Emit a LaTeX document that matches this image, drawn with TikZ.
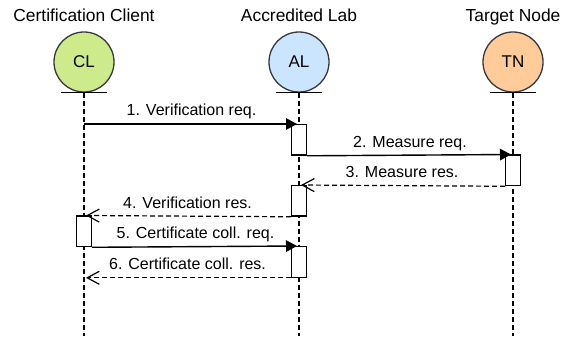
\documentclass[tikz,border=0pt]{standalone}
\usepackage{fontspec}
\setmainfont{Liberation Sans}
\usetikzlibrary{arrows.meta,positioning,shapes,calc}
\definecolor{clgreen}{HTML}{CDEB8B}
\definecolor{alblue}{HTML}{CCE5FF}
\definecolor{tnorange}{HTML}{FFCC99}
\definecolor{stroke}{HTML}{36393D}

\begin{document}
\begin{tikzpicture}[
  x=1pt, y=-1pt,
  actor/.style={circle, draw=stroke, line width=1.3pt, minimum size=60pt, inner sep=0pt, font=\fontsize{17}{20}\selectfont},
  title/.style={anchor=base, font=\fontsize{17.4}{20}\selectfont},
  life/.style={line width=1.3pt, dash pattern=on 5pt off 3pt},
  actbox/.style={rectangle, draw, fill=white, line width=1.3pt, minimum width=14.5pt, minimum height=30.5pt, inner sep=0pt, anchor=north},
  req/.style={line width=1.4pt, shorten >=2pt, -{Triangle[length=11pt,width=11.5pt]}},
  res/.style={line width=1.2pt, dash pattern=on 5pt off 3pt, shorten >=2pt, -{Straight Barb[length=12pt,width=13pt,line width=1.2pt]}},
  msglabel/.style={midway, anchor=base, yshift=8pt, font=\fontsize{16}{18}\selectfont}
]
\useasboundingbox (0,0) rectangle (565,339);

% participants
\node[actor, fill=clgreen] (CL) at (84,62) {CL};
\node[actor, fill=alblue] (AL) at (299,62) {AL};
\node[actor, fill=tnorange] (TN) at (513,62) {TN};

\node[title] (CLt) at (84,22) {Certification Client};
\node[title] (ALt) at (299,22) {Accredited Lab};
\node[title] (TNt) at (513,22) {Target Node};

% base lines
\foreach \p in {CL,AL,TN}
  \draw[line width=1.3pt] ($(\p.south)+(-23,0)$) -- ($(\p.south)+(23,0)$);

% lifelines
\coordinate (CLend) at (84,336);
\coordinate (ALend) at (299,336);
\coordinate (TNend) at (513,336);
\draw[life] (CL.south) -- (CLend);
\draw[life] (AL.south) -- (ALend);
\draw[life] (TN.south) -- (TNend);

% activations
\node[actbox] (a1) at (299,124) {};
\node[actbox] (t1) at (513,154.5) {};
\node[actbox] (a2) at (299,185) {};
\node[actbox] (c1) at (84,215.5) {};
\node[actbox] (a3) at (299,246) {};

% messages
\draw[req] (CL |- a1.north) -- node[msglabel] (m1) {1. Verification req.} (a1.north);
\draw[req] (a1.south east) -- node[msglabel] (m2) {2. Measure req.} (t1.north);
\draw[res] (t1.south west) -- node[msglabel] (m3) {3. Measure res.} (a2.north);
\draw[res] (a2.south west) -- node[msglabel] (m4) {4. Verification res.} (c1.north);
\draw[req] (c1.south east) -- node[msglabel] (m5) {5. Certificate coll. req.} (a3.north);
\draw[res] (a3.south west) -- node[msglabel] (m6) {6. Certificate coll. res.} (CL |- a3.south);

\end{tikzpicture}
\end{document}
